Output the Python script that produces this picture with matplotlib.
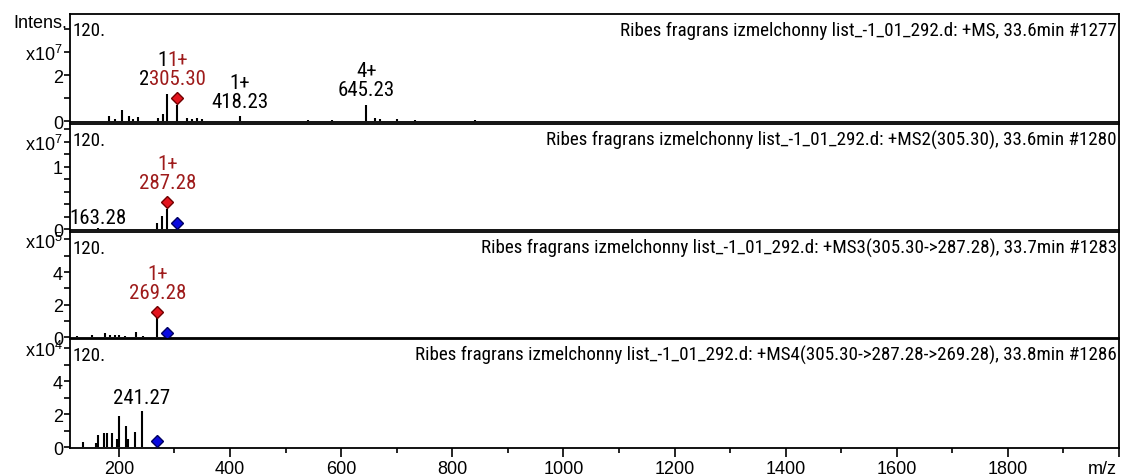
import numpy as np
import matplotlib.pyplot as plt
from matplotlib import font_manager as fm
from matplotlib.ticker import MultipleLocator

plt.rcParams['font.family'] = ['Liberation Sans', 'DejaVu Sans']
plt.rcParams['mathtext.fontset'] = 'custom'
plt.rcParams['mathtext.rm'] = 'Liberation Sans'


def narrow_font():
    # look for a condensed sans face, the labels are set in a narrow font
    wanted = ['Liberation Sans Narrow', 'Arial Narrow', 'Noto Sans Condensed',
              'DejaVu Sans Condensed', 'Roboto Condensed', 'Open Sans Condensed']
    for name in wanted:
        for f in fm.fontManager.ttflist:
            if f.name == name and f.style == 'normal' and f.weight in (400, 'normal', 'regular'):
                return fm.FontProperties(fname=f.fname)
    for f in fm.fontManager.ttflist:
        if f.stretch == 'condensed' and 'Sans' in f.name and f.style == 'normal' \
                and f.weight in (400, 'normal', 'regular'):
            return fm.FontProperties(fname=f.fname)
    return None


NARROW = narrow_font()

RED_TXT = '#9e1b1b'
RED_MK = '#e3141e'
BLUE_MK = '#0a0ae0'

src = 'Ribes fragrans izmelchonny list_-1_01_292.d: '

# MS scan, intensity in units of 1e7
ms1_mz = [182, 193, 205, 218.6, 224.6, 234.8, 270.8, 278.7, 287.28, 305.30,
          322, 331, 340, 349, 418.23, 540, 584, 645.23, 661, 670, 700, 733, 841]
ms1_int = [0.23, 0.08, 0.48, 0.23, 0.10, 0.16, 0.13, 0.30, 1.17, 0.70,
           0.13, 0.07, 0.13, 0.08, 0.23, 0.03, 0.03, 0.70, 0.15, 0.07, 0.08, 0.06, 0.03]

# MS2 of 305.30, units of 1e7
ms2_mz = [140, 150, 163.28, 175, 190, 230, 269, 277, 287.28]
ms2_int = [0.01, 0.01, 0.02, 0.01, 0.01, 0.01, 0.10, 0.21, 0.32]

# MS3 of 305.30->287.28, units of 1e5
ms3_mz = [123.7, 151, 175, 184, 193, 200, 211, 231, 244, 269.28]
ms3_int = [0.10, 0.12, 0.25, 0.15, 0.15, 0.15, 0.10, 0.30, 0.10, 1.40]

# MS4 of 305.30->287.28->269.28, units of 1e4
ms4_mz = [135.7, 158.6, 162.8, 173, 179, 187, 196, 200, 212.6, 216.8, 228.8, 241.27]
ms4_int = [0.28, 0.25, 0.75, 0.87, 0.87, 0.83, 0.50, 1.90, 1.30, 0.50, 0.93, 2.20]

titles = [src + '+MS, 33.6min #1277',
          src + '+MS2(305.30), 33.6min #1280',
          src + '+MS3(305.30->287.28), 33.7min #1283',
          src + '+MS4(305.30->287.28->269.28), 33.8min #1286']

# precursor markers: (m/z, height) per panel
red_marks = [(305.30, 1.00), (287.28, 0.44), (269.28, 1.55), None]
blue_marks = [None, (305.30, 0.10), (287.28, 0.25), (269.28, 0.35)]

if NARROW is not None:
    TXT = dict(fontproperties=NARROW)
    title_size, peak_size = 13.7, 15
else:
    TXT = {}
    title_size, peak_size = 11.9, 12.8

W, H = 1121, 477
fig = plt.figure(figsize=(W / 100, H / 100), dpi=100)

# panel boxes in pixels: (top, bottom)
boxes = [(15, 123), (125, 231), (233, 339), (340, 449)]
left, right = 70, 1119
axes = []
for top, bot in boxes:
    ax = fig.add_axes([left / W, 1 - bot / H, (right - left) / W, (bot - top) / H])
    axes.append(ax)

spectra = [(ms1_mz, ms1_int), (ms2_mz, ms2_int), (ms3_mz, ms3_int), (ms4_mz, ms4_int)]
ylims = [(-0.04, 4.65), (-0.01, 1.68), (-0.05, 6.46), (-0.06, 6.55)]
ystep = [1, 0.2, 1, 1]
ylabels = [
    {0: '0', 2: '2', 3: 'x10$^7$'},
    {0: '0', 1: '1', 1.4: 'x10$^7$'},
    {0: '0', 2: '2', 4: '4', 6: 'x10$^5$'},
    {0: '0', 2: '2', 4: '4', 6: 'x10$^4$'},
]

for i, ax in enumerate(axes):
    mz, inten = spectra[i]
    ax.vlines(mz, 0, inten, color='black', lw=1.5)
    ax.set_xlim(112, 2000)
    ax.set_ylim(*ylims[i])

    ticks = np.round(np.arange(0, ylims[i][1], ystep[i]), 2)
    ax.set_yticks(ticks)
    labs = []
    for t in ticks:
        lab = ''
        for k, v in ylabels[i].items():
            if abs(t - k) < 1e-6:
                lab = v
        labs.append(lab)
    ax.set_yticklabels(labs, fontsize=13)
    ax.tick_params(axis='y', direction='out', length=4, width=1.2, pad=1)

    for s in ax.spines.values():
        s.set_linewidth(1.3)

    ax.annotate('120.', xy=(0, 1), xycoords='axes fraction', xytext=(3, -21),
                textcoords='offset pixels', ha='left', va='baseline',
                fontsize=title_size, **TXT)
    ax.annotate(titles[i], xy=(1, 1), xycoords='axes fraction', xytext=(-2, -21),
                textcoords='offset pixels', ha='right', va='baseline',
                fontsize=title_size, **TXT)

    if red_marks[i]:
        ax.plot(*red_marks[i], marker='D', ms=6.5, color=RED_MK, mec='#700000', mew=1, zorder=5)
    if blue_marks[i]:
        ax.plot(*blue_marks[i], marker='D', ms=6.5, color=BLUE_MK, mec='#000060', mew=1, zorder=5)

    if i < 3:
        ax.tick_params(axis='x', bottom=False, labelbottom=False)

# intensity caption above the first scale
axes[0].annotate('Intens.', xy=(0, 1), xycoords='axes fraction', xytext=(-3, -9),
                 textcoords='offset pixels', ha='right', va='center', fontsize=13)


# peak annotations, one line at a time so a boxed label only hides what it covers
def peak_label(ax, x, y, text, color='black', dy=7, box=False):
    kw = dict(TXT)
    if box:
        kw['bbox'] = dict(boxstyle='square,pad=0.05', fc='white', ec='none')
    for n, line in enumerate(reversed(text.split('\n'))):
        ax.annotate(line, xy=(x, y), xytext=(0, dy + 19 * n), textcoords='offset pixels',
                    ha='center', va='bottom', fontsize=peak_size, color=color,
                    zorder=6, **kw)


peak_label(axes[0], 287.28, 1.17, '1+\n287.28', dy=6)
peak_label(axes[0], 305.30, 1.00, '1+\n305.30', color=RED_TXT, dy=10, box=True)
peak_label(axes[0], 418.23, 0.23, '1+\n418.23', dy=5)
peak_label(axes[0], 645.23, 0.70, '4+\n645.23', dy=6)

peak_label(axes[1], 287.28, 0.44, '1+\n287.28', color=RED_TXT, dy=10)
peak_label(axes[1], 163.28, 0.02, '163.28', dy=1)

peak_label(axes[2], 269.28, 1.55, '1+\n269.28', color=RED_TXT, dy=10)

peak_label(axes[3], 241.27, 2.20, '241.27', dy=4)

# shared m/z axis on the bottom panel
ax = axes[3]
ax.set_xticks(np.arange(200, 2001, 200))
ax.set_xticklabels([str(v) for v in range(200, 1801, 200)] + [''], fontsize=13)
ax.xaxis.set_minor_locator(MultipleLocator(100))
ax.tick_params(axis='x', which='major', direction='out', length=6.5, width=1.2, pad=2)
ax.tick_params(axis='x', which='minor', direction='out', length=3.5, width=1.2)
ax.annotate('m/z', xy=(2000, 0), xycoords=('data', 'axes fraction'), xytext=(-2, -12),
            textcoords='offset pixels', ha='right', va='top', fontsize=13)

fig.savefig('out.png', dpi=100)
